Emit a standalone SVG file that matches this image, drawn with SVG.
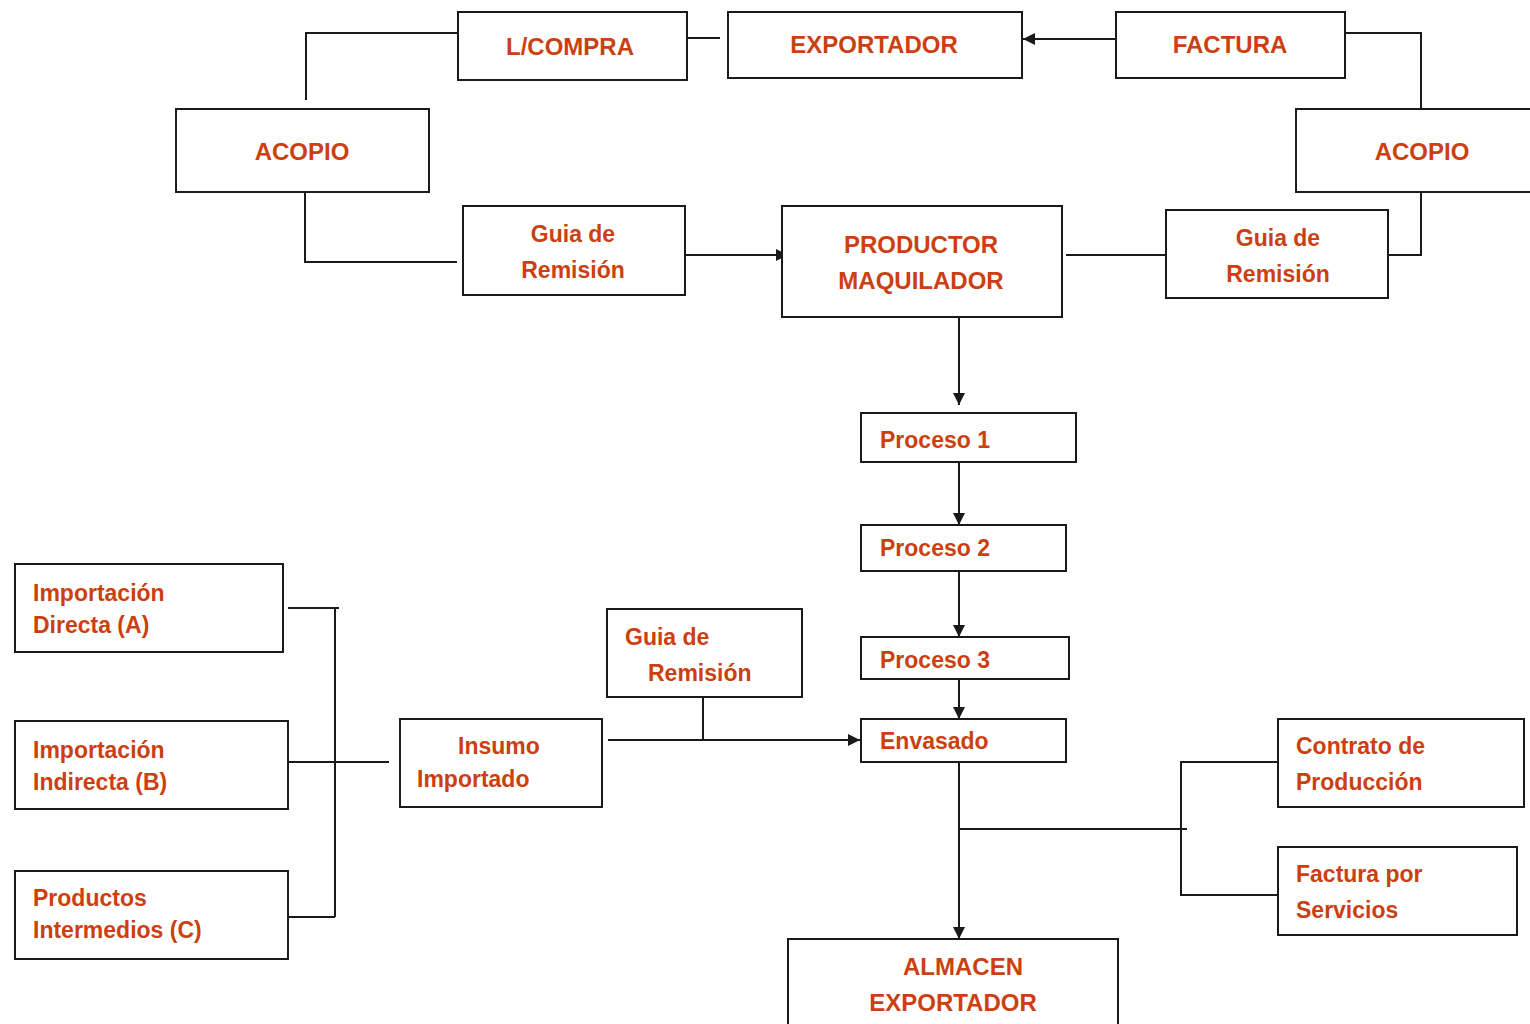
<svg xmlns="http://www.w3.org/2000/svg" width="1530" height="1024" viewBox="0 0 1530 1024">
<style>
.b{fill:#fff;stroke:#1a1a1a;stroke-width:2}
.t{font-family:"Liberation Sans",Arial,sans-serif;font-weight:bold;fill:#CC3F10;font-size:23px}
.u{font-size:24px}
.c{stroke:#1a1a1a;stroke-width:2;fill:none}
</style>
<defs>
<marker id="ar" viewBox="0 0 10 10" refX="10" refY="5" markerWidth="13" markerHeight="12" markerUnits="userSpaceOnUse" orient="auto">
<path d="M0,0 L10,5 L0,10 z" fill="#1a1a1a"/>
</marker>
</defs>
<rect width="1530" height="1024" fill="#fff"/>
<g id="connectors">
<polyline class="c" points="306,100 306,33 458,33"/>
<line class="c" x1="687" y1="38" x2="720" y2="38"/>
<line class="c" x1="1116" y1="39" x2="1023" y2="39" marker-end="url(#ar)"/>
<polyline class="c" points="1345,33 1421,33 1421,109"/>
<polyline class="c" points="305,192 305,262 457,262"/>
<line class="c" x1="685" y1="255" x2="788" y2="255" marker-end="url(#ar)"/>
<line class="c" x1="1066" y1="255" x2="1166" y2="255"/>
<polyline class="c" points="1388,255 1421,255 1421,192"/>
<line class="c" x1="959" y1="317" x2="959" y2="405" marker-end="url(#ar)"/>
<line class="c" x1="959" y1="462" x2="959" y2="525" marker-end="url(#ar)"/>
<line class="c" x1="959" y1="571" x2="959" y2="637" marker-end="url(#ar)"/>
<line class="c" x1="959" y1="679" x2="959" y2="719" marker-end="url(#ar)"/>
<line class="c" x1="608" y1="740" x2="860" y2="740" marker-end="url(#ar)"/>
<line class="c" x1="703" y1="697" x2="703" y2="740"/>
<line class="c" x1="288" y1="608" x2="339" y2="608"/>
<line class="c" x1="335" y1="608" x2="335" y2="917"/>
<line class="c" x1="288" y1="762" x2="389" y2="762"/>
<line class="c" x1="286" y1="917" x2="335" y2="917"/>
<line class="c" x1="959" y1="762" x2="959" y2="939" marker-end="url(#ar)"/>
<line class="c" x1="959" y1="829" x2="1187" y2="829"/>
<polyline class="c" points="1278,762 1181,762 1181,895 1278,895"/>
</g>
<g id="lcompra"><rect class="b" x="458" y="12" width="229" height="68"/><text class="t u" x="570" y="55" text-anchor="middle">L/COMPRA</text></g>
<g id="exportador"><rect class="b" x="728" y="12" width="294" height="66"/><text class="t u" x="874" y="53" text-anchor="middle">EXPORTADOR</text></g>
<g id="factura"><rect class="b" x="1116" y="12" width="229" height="66"/><text class="t u" x="1230" y="53" text-anchor="middle">FACTURA</text></g>
<g id="acopio1"><rect class="b" x="176" y="109" width="253" height="83"/><text class="t u" x="302" y="160" text-anchor="middle">ACOPIO</text></g>
<g id="acopio2"><rect class="b" x="1296" y="109" width="240" height="83"/><text class="t u" x="1422" y="160" text-anchor="middle">ACOPIO</text></g>
<g id="guia1"><rect class="b" x="463" y="206" width="222" height="89"/><text class="t" x="573" y="242" text-anchor="middle">Guia de</text><text class="t" x="573" y="278" text-anchor="middle">Remisión</text></g>
<g id="productor"><rect class="b" x="782" y="206" width="280" height="111"/><text class="t u" x="921" y="253" text-anchor="middle">PRODUCTOR</text><text class="t u" x="921" y="289" text-anchor="middle">MAQUILADOR</text></g>
<g id="guia2"><rect class="b" x="1166" y="210" width="222" height="88"/><text class="t" x="1278" y="246" text-anchor="middle">Guia de</text><text class="t" x="1278" y="282" text-anchor="middle">Remisión</text></g>
<g id="proceso1"><rect class="b" x="861" y="413" width="215" height="49"/><text class="t" x="880" y="448">Proceso 1</text></g>
<g id="proceso2"><rect class="b" x="861" y="525" width="205" height="46"/><text class="t" x="880" y="556">Proceso 2</text></g>
<g id="proceso3"><rect class="b" x="861" y="637" width="208" height="42"/><text class="t" x="880" y="668">Proceso 3</text></g>
<g id="envasado"><rect class="b" x="861" y="719" width="205" height="43"/><text class="t" x="880" y="749">Envasado</text></g>
<g id="guia3"><rect class="b" x="607" y="609" width="195" height="88"/><text class="t" x="625" y="645">Guia de</text><text class="t" x="648" y="681">Remisión</text></g>
<g id="insumo"><rect class="b" x="400" y="719" width="202" height="88"/><text class="t" x="458" y="754">Insumo</text><text class="t" x="417" y="787">Importado</text></g>
<g id="impA"><rect class="b" x="15" y="564" width="268" height="88"/><text class="t" x="33" y="601">Importación</text><text class="t" x="33" y="633">Directa (A)</text></g>
<g id="impB"><rect class="b" x="15" y="721" width="273" height="88"/><text class="t" x="33" y="758">Importación</text><text class="t" x="33" y="790">Indirecta (B)</text></g>
<g id="prodC"><rect class="b" x="15" y="871" width="273" height="88"/><text class="t" x="33" y="906">Productos</text><text class="t" x="33" y="938">Intermedios (C)</text></g>
<g id="contrato"><rect class="b" x="1278" y="719" width="246" height="88"/><text class="t" x="1296" y="754">Contrato de</text><text class="t" x="1296" y="790">Producción</text></g>
<g id="facturaserv"><rect class="b" x="1278" y="847" width="239" height="88"/><text class="t" x="1296" y="882">Factura por</text><text class="t" x="1296" y="918">Servicios</text></g>
<g id="almacen"><rect class="b" x="788" y="939" width="330" height="100"/><text class="t u" x="963" y="975" text-anchor="middle">ALMACEN</text><text class="t u" x="953" y="1011" text-anchor="middle">EXPORTADOR</text></g>
</svg>
